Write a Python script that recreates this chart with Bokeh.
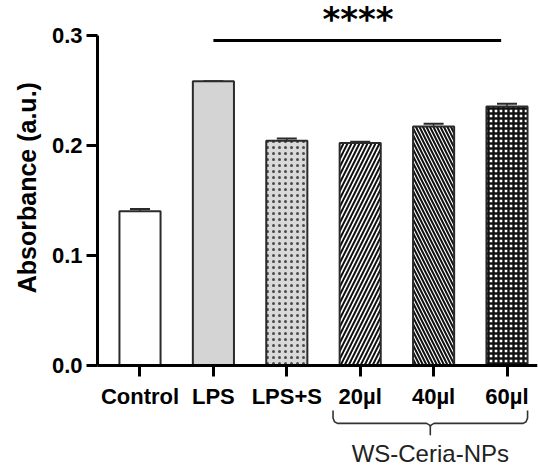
import math
from bokeh.plotting import figure
from bokeh.models import (ColumnDataSource, Range1d, FixedTicker, Whisker, TeeHead,
                          NumeralTickFormatter)
from bokeh.core.properties import value
from bokeh.embed import file_html
from bokeh.resources import INLINE

# ---- data ----
categories = ["Control", "LPS", "LPS+S", "20µl", "40µl", "60µl"]
absorbance = [0.140, 0.258, 0.204, 0.202, 0.217, 0.235]
error = [0.002, 0.0, 0.002, 0.001, 0.0025, 0.0025]
y_ticks = [0.0, 0.1, 0.2, 0.3]
y_label = "Absorbance (a.u.)"
sig_groups = ("LPS", "60µl")
sig_text = "****"
sig_level = 0.2950
bracket_groups = ("20µl", "60µl")
bracket_label = "WS-Ceria-NPs"

# ---- styles ----
fills = ["#ffffff", "#d4d4d4", "#d9d9d9", "#ffffff", "#ffffff", "#ffffff"]
hatches = [" ", " ", "dot", "/", "\\", "cross"]
hatch_scales = [6, 6, 6, 8, 7, 5]
hatch_weights = [1, 1, 1.1, 2.0, 2.0, 2.4]
hatch_colors = ["#000000", "#000000", "#4a4a4a", "#111111", "#111111", "#111111"]

xs = list(range(len(categories)))
src = ColumnDataSource(dict(
    x=xs, top=absorbance,
    upper=[a + e for a, e in zip(absorbance, error)],
    fill=fills, hatch=hatches, hscale=hatch_scales, hweight=hatch_weights, hcolor=hatch_colors,
))

# frame covers the full canvas; axes are pinned and bounded to the data region
x_left_axis = -0.579
p = figure(width=538, height=470, x_range=Range1d(-1.9005, 5.4155),
           y_range=Range1d(-0.09545, 0.33136),
           output_backend="svg", toolbar_location=None,
           min_border_left=0, min_border_right=1, min_border_top=0, min_border_bottom=0)
p.outline_line_color = None
p.xgrid.visible = False
p.ygrid.visible = False

p.vbar(x="x", top="top", width=0.56, bottom=0, source=src,
       fill_color="fill", line_color="#2a2a2a", line_width=2,
       hatch_pattern="hatch", hatch_scale="hscale", hatch_weight="hweight",
       hatch_color="hcolor")

whisk = Whisker(base="x", upper="upper", lower="top", source=src,
                line_color="#2a2a2a", line_width=1.5,
                upper_head=TeeHead(size=20, line_color="#2a2a2a", line_width=2),
                lower_head=None)
p.add_layout(whisk)

# significance line + stars
i0, i1 = categories.index(sig_groups[0]), categories.index(sig_groups[1])
p.line(x=[i0, i1 - 0.08], y=[sig_level, sig_level], line_color="black", line_width=3)
p.text(x=[(i0 + i1) / 2 - 0.03], y=[0.3145], text=[sig_text], text_align="center",
       text_baseline="middle", text_font=value("DejaVu Sans"), text_font_style="bold",
       text_font_size="34px", text_color="black")

# bracket below the grouped bars
b0, b1 = categories.index(bracket_groups[0]), categories.index(bracket_groups[1])
L, R = b0 - 0.37, b1 + 0.28
C = (L + R) / 2
yt, ym, yb = -0.0409, -0.0527, -0.0630
path_x = [L, L, L + 0.02, L + 0.06, C - 0.05, C - 0.01, C, C, C, C + 0.01, C + 0.05,
          R - 0.06, R - 0.02, R, R]
path_y = [yt, ym + 0.005, ym + 0.0015, ym, ym, ym - 0.0015, ym - 0.003, yb, ym - 0.003,
          ym - 0.0015, ym, ym, ym + 0.0015, ym + 0.005, yt]
p.line(x=path_x, y=path_y, line_color="#333333", line_width=1.6, line_join="round")
p.text(x=[C], y=[-0.0800], text=[bracket_label], text_align="center",
       text_baseline="middle", text_font=value("Liberation Sans"),
       text_font_size="24px", text_color="#222222")

# y axis title
p.text(x=[-1.533], y=[0.1614], text=[y_label], angle=math.pi / 2, text_align="center",
       text_baseline="middle", text_font=value("Liberation Sans"), text_font_style="bold",
       text_font_size="25px", text_color="black")

# axes
p.xaxis.fixed_location = 0
p.xaxis.bounds = (x_left_axis, 5.4155)
p.xaxis.ticker = FixedTicker(ticks=xs)
p.xaxis.major_label_overrides = {i: c for i, c in zip(xs, categories)}
p.yaxis.fixed_location = x_left_axis
p.yaxis.ticker = FixedTicker(ticks=y_ticks)
p.yaxis.bounds = (y_ticks[0], y_ticks[-1])
p.yaxis.formatter = NumeralTickFormatter(format="0.0")
for ax in (p.xaxis, p.yaxis):
    ax.axis_line_width = 3
    ax.axis_line_color = "black"
    ax.major_tick_line_width = 3
    ax.major_tick_line_color = "black"
    ax.major_tick_out = 11
    ax.major_tick_in = 0
    ax.minor_tick_line_color = None
    ax.major_label_text_font = "Liberation Sans"
    ax.major_label_text_font_style = "bold"
    ax.major_label_text_font_size = "22px"
    ax.major_label_text_color = "black"
p.xaxis.major_label_standoff = 8
p.yaxis.major_label_standoff = 4

open("out.html", "w").write(file_html(p, INLINE))
